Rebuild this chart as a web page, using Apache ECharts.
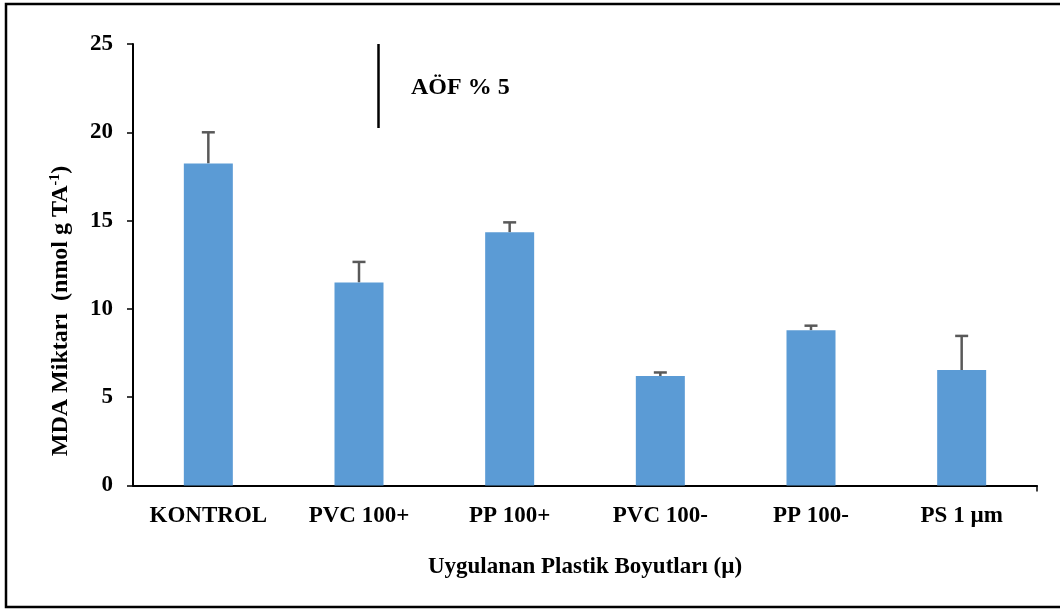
<!DOCTYPE html>
<html>
<head>
<meta charset="utf-8">
<script src="https://cdn.jsdelivr.net/npm/echarts@6/dist/echarts.min.js"></script>
<style>
  html, body { margin: 0; padding: 0; background: #fff; }
  #chart { width: 1060px; height: 610px; }
</style>
</head>
<body>
<div id="chart"></div>
<script>
// MDA amounts per applied plastic size, with upper error bars
const categories = ['KONTROL', 'PVC 100+', 'PP 100+', 'PVC 100-', 'PP 100-', 'PS 1 µm'];
const mdaValues = [18.24, 11.5, 14.34, 6.2, 8.79, 6.54];
const errorValues = [1.76, 1.16, 0.56, 0.2, 0.26, 1.93];
const yTicks = [0, 5, 10, 15, 20, 25];

const serif = '"Liberation Serif", "Times New Roman", serif';
const fs = 23;

const chart = echarts.init(document.getElementById('chart'));

const errorData = mdaValues.map((v, i) => [i, v, v + errorValues[i]]);

chart.setOption({
  animation: false,
  backgroundColor: '#ffffff',
  grid: { left: 133, right: 23, top: 44, bottom: 124.5 },
  xAxis: {
    type: 'category',
    data: categories,
    axisLine: { lineStyle: { color: '#000', width: 2 } },
    axisTick: { alignWithLabel: true, interval: 0, length: 6, lineStyle: { color: '#000', width: 1.5 } },
    axisLabel: { interval: 0, hideOverlap: false, color: '#000', fontFamily: serif, fontWeight: 'bold', fontSize: fs, margin: 19 },
    name: 'Uygulanan Plastik Boyutları (µ)',
    nameLocation: 'middle',
    nameGap: 70,
    nameTextStyle: { color: '#000', fontFamily: serif, fontWeight: 'bold', fontSize: fs }
  },
  yAxis: {
    type: 'value',
    min: yTicks[0],
    max: yTicks[yTicks.length - 1],
    interval: 5,
    splitLine: { show: false },
    axisLine: { show: true, lineStyle: { color: '#000', width: 2 } },
    axisTick: { show: true, length: 6, lineStyle: { color: '#000', width: 1.5 } },
    axisLabel: { color: '#000', fontFamily: serif, fontWeight: 'bold', fontSize: fs, margin: 20 }
  },
  series: [
    {
      type: 'bar',
      data: mdaValues,
      barWidth: 49,
      itemStyle: { color: '#5B9BD5' }
    },
    {
      type: 'custom',
      data: errorData,
      z: 1,
      renderItem: function (params, api) {
        const base = api.coord([api.value(0), api.value(1)]);
        const top = api.coord([api.value(0), api.value(2)]);
        const half = 6.5;
        const style = { stroke: '#595959', lineWidth: 2.5 };
        return {
          type: 'group',
          children: [
            { type: 'line', shape: { x1: base[0], y1: base[1], x2: top[0], y2: top[1] }, style: style },
            { type: 'line', shape: { x1: top[0] - half, y1: top[1], x2: top[0] + half, y2: top[1] }, style: style }
          ]
        };
      }
    }
  ],
  graphic: [
    { type: 'rect', shape: { x: 6, y: 4, width: 1070, height: 603 }, style: { fill: 'none', stroke: '#000', lineWidth: 2.5 } },
    { type: 'line', shape: { x1: 378.5, y1: 44, x2: 378.5, y2: 128 }, style: { stroke: '#000', lineWidth: 2.5 } },
    { type: 'text', x: 411, y: 88, style: { text: 'AÖF % 5', fill: '#000', font: 'bold 24px ' + serif, textVerticalAlign: 'middle' } },
    { type: 'line', shape: { x1: 1037, y1: 485.5, x2: 1037, y2: 491.5 }, style: { stroke: '#000', lineWidth: 1.5 } },
    // rotated y-axis title with superscript
    {
      type: 'text', x: 61, y: 311, rotation: Math.PI / 2,
      style: {
        text: '{t|MDA Miktarı  (nmol g TA}{s|-1}{t|)}',
        align: 'center', verticalAlign: 'middle',
        rich: {
          t: { fill: '#000', fontFamily: serif, fontWeight: 'bold', fontSize: 24 },
          s: { fill: '#000', fontFamily: serif, fontWeight: 'bold', fontSize: 14, verticalAlign: 'top', padding: [0, 0, 12, 0] }
        }
      }
    }
  ]
});
</script>
</body>
</html>
